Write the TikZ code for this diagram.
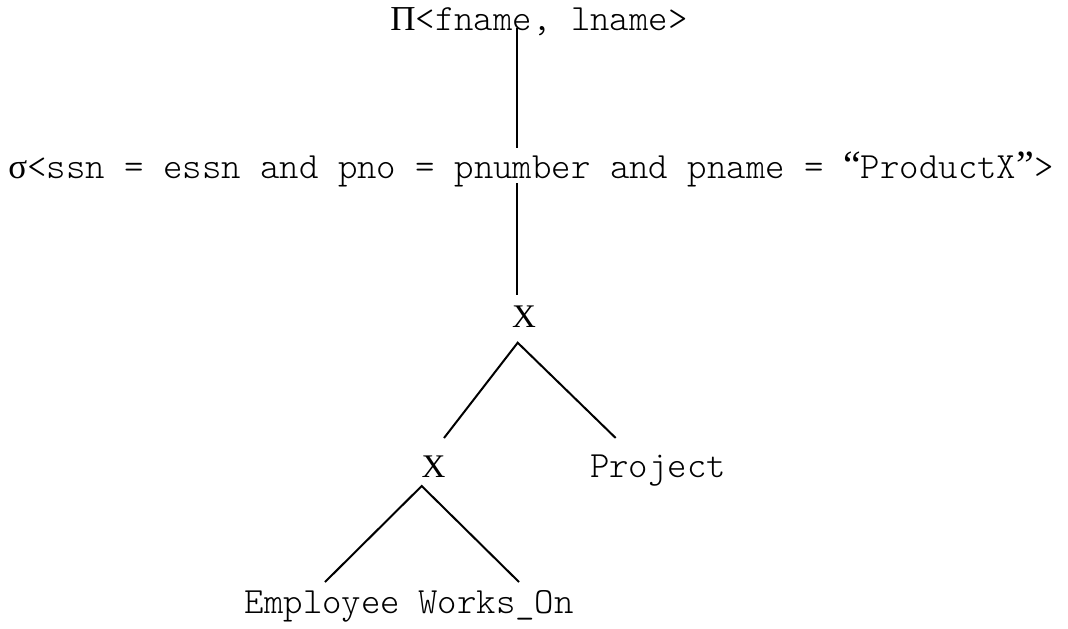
\documentclass[tikz,border=0pt]{standalone}
\usepackage{fontspec}
\setmonofont{lmmonolt10-regular.otf}
\newfontfamily\serifx{Liberation Serif}
\begin{document}
\begin{tikzpicture}[x=0.5pt,y=-0.5pt,
  txt/.style={inner sep=0pt,anchor=base,font=\ttfamily\fontsize{18.5}{21}\selectfont},
  opx/.style={inner sep=0pt,anchor=base,font=\serifx\fontsize{16.5}{19}\selectfont},
  edge/.style={line width=1pt,black}]
\useasboundingbox[fill=white] (0,0) rectangle (1068,628);
\node[txt] (proj) at (539,30) {{\serifx\fontsize{17.5}{20}\selectfont Π}<fname, lname>};
\node[txt] (sel) at (531,178) {{\serifx\fontsize{17.5}{20}\selectfont σ}<ssn = essn and pno = pnumber and pname = {\serifx\fontsize{20}{22}\selectfont “}ProductX{\serifx\fontsize{20}{22}\selectfont ”}>};
\node[opx] (x1) at (524,327) {X};
\node[opx] (x2) at (433.5,477) {X};
\node[txt] (project) at (658,477) {Project};
\node[txt] (emp) at (322.5,613) {Employee};
\node[txt] (works) at (496,613) {Works\_On};
\coordinate (a1) at (517,28);
\coordinate (a2) at (517,148);
\coordinate (b1) at (517,183);
\coordinate (b2) at (517,295);
\coordinate (c0) at (517.7,342.7);
\coordinate (c1) at (444,438);
\coordinate (c2) at (615.7,438);
\coordinate (d0) at (421.7,486);
\coordinate (d1) at (325,582);
\coordinate (d2) at (519,582);
\draw[edge] (a1) -- (a2);
\draw[edge] (b1) -- (b2);
\draw[edge] (c1) -- (c0) -- (c2);
\draw[edge] (d1) -- (d0) -- (d2);
\end{tikzpicture}
\end{document}
